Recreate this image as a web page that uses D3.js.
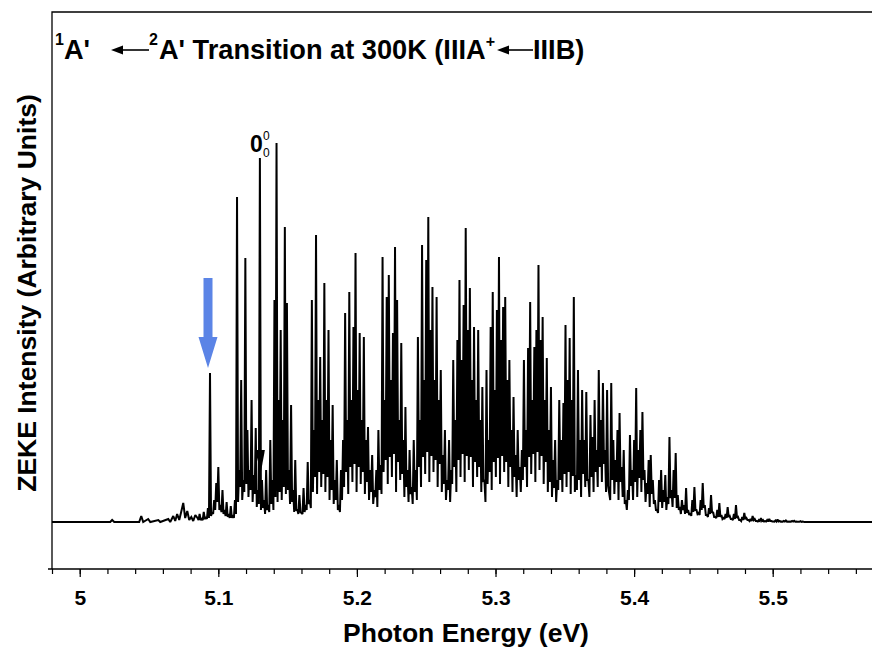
<!DOCTYPE html>
<html><head><meta charset="utf-8">
<script src="https://cdn.jsdelivr.net/npm/d3@7"></script>
<style>
body{margin:0;background:#fff;}
svg{display:block;}
text{font-family:"Liberation Sans",Arial,Helvetica,sans-serif;fill:#000;}
</style>
</head><body>
<svg id="chart" width="872" height="648"></svg>
<script>
// ---------------- DATA ----------------
// sparse low-energy part of the spectrum (eV, arbitrary intensity)
const preEnergies  = [4.9800,5.0220,5.0234,5.0249,5.0429,5.0444,5.0458,5.0494,5.0509,5.0567,5.0581,5.0639,5.0653,5.0675,5.0689,5.0703,5.0718,5.0732,5.0747,5.0761,5.0776,5.0790,5.0805,5.0819,5.0834];
const preIntensity = [0,0,2,0,0,6,0,3,0,2,0,3,0,6,1,8,2,10,19,4,11,2,5,1,7];
// densely sampled main band: sample i at gridStart + i*gridStep (local maxima),
// and the minimum between sample i and i+1 (half a step later)
const gridStart = 5.085;
const gridStep = 0.0015;
const gridPeaks = [
 4,8,3,10,5,14,149,10,22,39,
 55,17,32,12,20,8,16,7,22,325,
 52,142,42,264,92,52,122,47,94,32,
 364,42,22,52,17,82,42,222,379,122,
 192,102,295,219,52,117,32,62,12,27,
 9,34,17,60,22,222,92,287,122,165,
 102,239,122,192,82,117,42,62,17,52,
 82,209,102,230,122,195,269,132,189,102,
 185,82,95,52,67,32,52,92,57,265,
 122,225,247,142,189,275,222,102,179,82,
 115,52,72,35,82,52,185,102,277,142,
 262,305,192,235,142,225,122,152,67,92,
 42,82,52,162,102,182,242,162,217,294,
 192,234,142,195,122,192,102,135,42,152,
 82,195,230,132,212,265,182,215,225,142,
 162,92,125,67,92,55,72,162,92,174,
 220,122,175,192,257,182,205,122,164,92,
 135,62,82,42,122,82,119,197,142,184,
 122,225,47,152,82,132,82,130,42,107,
 85,122,72,152,102,139,72,132,29,139,
 82,62,92,109,55,72,22,32,87,52,
 82,134,72,92,110,52,39,62,67,42,
 22,12,42,52,32,47,25,85,32,52,
 69,27,15,22,17,34,12,9,22,35,
 12,9,22,39,17,7,14,27,10,5,
 12,19,7,4,8,15,6,3,8,17,
 5,2,5,9,4,2,3,6,3,1,
 2,4,2,1,2,3,1,0.5,1.5,2.5,
 1,0.5,1,1.5,0.5,0.5,1,1.2,0.5,0.3,
 0.8,0.5,0
];
const gridValleys = [
 2,2,2,3,3,4,6,8,12,20,
 12,10,8,6,5,4,4,4,8,20,
 35,22,30,38,25,32,20,28,15,18,
 12,14,8,12,10,18,12,25,20,30,
 22,35,28,32,18,20,10,12,8,10,
 8,10,12,18,14,30,45,28,50,35,
 48,30,45,22,32,18,22,12,10,22,
 35,50,28,55,40,58,30,55,38,50,
 28,40,22,30,18,25,15,32,28,50,
 62,38,65,45,68,30,60,42,48,25,
 35,20,28,18,30,22,55,35,65,48,
 70,40,66,50,62,35,58,30,38,22,
 32,20,38,55,30,62,45,68,40,66,
 52,65,35,60,45,55,30,40,20,38,
 50,32,60,45,64,38,66,50,60,35,
 55,30,45,25,42,30,42,55,35,65,
 48,68,40,70,52,66,38,60,30,40,
 25,34,20,32,42,30,48,35,50,28,
 46,30,32,42,25,48,35,42,25,45,
 30,50,35,55,40,58,30,36,22,42,
 28,40,22,40,25,18,12,22,36,22,
 40,25,44,30,42,20,28,15,28,18,
 12,9,20,14,20,12,18,24,15,24,
 14,12,8,12,8,9,7,6,10,12,
 8,7,12,14,7,5,8,9,5,4,
 5,5,3,3,4,5,3,2,3,4,
 2,1,2,3,2,1,1,2,1,0.5,
 1,1,0.5,0.5,0.5,1,0.5,0.3,0.5,0.5,
 0.3,0.3,0.5,0.3,0.2,0.3,0.4,0.3,0.2,0.2,
 0.2,0.2,0
];
const tailEnergies  = [5.5300,5.5800];
const tailIntensity = [0,0];

const majorTicks = [5.0,5.1,5.2,5.3,5.4,5.5];
const tickLabels = ["5","5.1","5.2","5.3","5.4","5.5"];
const minorTicks = [4.98,5.00,5.02,5.04,5.06,5.08,5.10,5.12,5.14,5.16,5.18,5.20,5.22,5.24,5.26,5.28,5.30,5.32,5.34,5.36,5.38,5.40,5.42,5.44,5.46,5.48,5.50,5.52,5.54,5.56];

const arrowPeakEnergy = 5.094;   // peak marked with blue arrow
const arrowPeakIntensity = 149;
const originEnergy = 5.130;      // 0-0 transition line
const originIntensity = 364;

const titleText = {sup1:"1", a1:"A'", sup2:"2", mid:"A' Transition at 300K (IIIA", plus:"+", end:"IIIB)"};
const xTitle = "Photon Energy (eV)";
const yTitle = "ZEKE Intensity (Arbitrary Units)";

// ---------------- BUILD ----------------
const spectrum = [];
preEnergies.forEach((e,i)=>spectrum.push([e,preIntensity[i]]));
gridPeaks.forEach((v,i)=>{
  spectrum.push([gridStart+i*gridStep, v]);
  spectrum.push([gridStart+(i+0.5)*gridStep, gridValleys[i]]);
});
tailEnergies.forEach((e,i)=>spectrum.push([e,tailIntensity[i]]));

const svg = d3.select("#chart");
const L=52, R=872, T=12, B=569;
const x = d3.scaleLinear().domain([4.98,5.572]).range([L,872.5]);
const y = d3.scaleLinear().domain([-47,510]).range([B,T]);

svg.append("defs").append("clipPath").attr("id","clip")
  .append("rect").attr("x",L).attr("y",T).attr("width",R-L+2).attr("height",B-T);

// frame
svg.append("path").attr("d",`M${L},${B}V${T}H${R+2}`).attr("fill","none").attr("stroke","#000").attr("stroke-width",1.3);

// spectrum
const line = d3.line().x(d=>x(d[0])).y(d=>y(d[1]));
svg.append("path").datum(spectrum).attr("clip-path","url(#clip)")
  .attr("d",line).attr("fill","none").attr("stroke","#000").attr("stroke-width",2).attr("stroke-linejoin","miter").attr("stroke-miterlimit",2);

// axes
const gx = svg.append("g").attr("transform",`translate(0,${B})`);
gx.call(d3.axisBottom(x).tickValues(minorTicks).tickSize(5).tickFormat(""));
gx.select(".domain").remove();
const gx2 = svg.append("g").attr("transform",`translate(0,${B})`);
gx2.call(d3.axisBottom(x).tickValues(majorTicks).tickSize(8).tickFormat((d,i)=>tickLabels[i]));
gx2.select(".domain").attr("d",`M${L-4},0H${R+2}`).attr("stroke-width",1.3);
svg.selectAll(".tick line").attr("stroke","#000").attr("stroke-width",1.2);
gx2.selectAll(".tick text").attr("y",36).attr("dy",0)
  .style("font-family","'Liberation Sans',Arial,sans-serif").style("font-size","21px").style("font-weight","bold").attr("fill","#000");

// axis titles
svg.append("text").attr("x",466).attr("y",642).attr("text-anchor","middle")
  .attr("font-size",26.5).attr("font-weight","bold").text(xTitle);
svg.append("text").attr("transform","translate(36,293) rotate(-90)").attr("text-anchor","middle")
  .attr("font-size",26.5).attr("font-weight","bold").text(yTitle);

// title
const tg = svg.append("g");
let cx = 55; const base = 59;
function addText(str,size,dy,gapAfter){
  const t = tg.append("text").attr("x",cx).attr("y",base+dy).attr("font-size",size).attr("font-weight","bold").text(str);
  cx += t.node().getComputedTextLength() + (gapAfter||0);
}
function addArrow(len){
  const ay = base-9;
  tg.append("line").attr("x1",cx+8).attr("x2",cx+len).attr("y1",ay).attr("y2",ay).attr("stroke","#000").attr("stroke-width",1.6);
  tg.append("path").attr("d",`M${cx},${ay}L${cx+12},${ay-4.5}L${cx+12},${ay+4.5}Z`).attr("fill","#000");
  cx += len;
}
addText(titleText.sup1,16,-14,0);
addText(titleText.a1,27.2,0,21);
addArrow(38);
addText(titleText.sup2,16,-14,1);
addText(titleText.mid,27.2,0,0);
addText(titleText.plus,16,-12,2);
addArrow(36);
addText(titleText.end,27.2,0,0);

// blue arrow marking a peak
const ax = x(arrowPeakEnergy)-2, tipY = y(arrowPeakIntensity)-5;
svg.append("path").attr("fill","#5b84e6")
  .attr("d",`M${ax-4.5},${tipY-90}H${ax+4.5}V${tipY-31}H${ax+9.5}L${ax},${tipY}L${ax-9.5},${tipY-31}H${ax-4.5}Z`);

// 0-0 label
const ox = x(originEnergy), oy = y(originIntensity);
svg.append("text").attr("x",ox-3.5).attr("y",oy-6).attr("text-anchor","middle").attr("font-size",23).attr("font-weight","bold").text("0");
svg.append("text").attr("x",ox+3).attr("y",oy-18).attr("font-size",12).text("0");
svg.append("text").attr("x",ox+3).attr("y",oy-1).attr("font-size",12).text("0");
// small marker triangle on the 0-0 line
const my = y(72);
svg.append("path").attr("d",`M${ox-5},${my}H${ox+5}L${ox+1},${my+22}Z`).attr("fill","#000");
</script>
</body></html>
